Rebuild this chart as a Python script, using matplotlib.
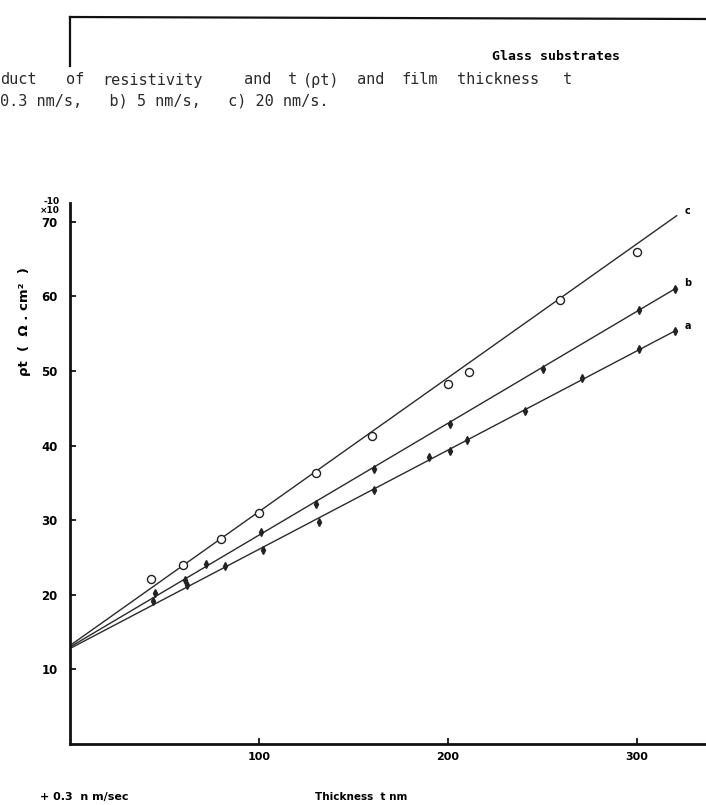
"""rho*t versus film thickness for films on glass substrates (scan re-drawn)."""
import matplotlib

matplotlib.use("Agg")
import matplotlib.pyplot as plt
import numpy as np

plt.rcParams["font.family"] = ["DejaVu Sans"]

# ---- data ----
# c) 20 nm/s, open circles
thick_c = [43, 60, 80, 100, 130, 160, 200, 211, 259, 300]
rhot_c = [22.1, 24.0, 27.5, 31.0, 36.3, 41.3, 48.3, 49.9, 59.5, 66.0]
# b) 5 nm/s
thick_b = [45, 61, 72, 101, 130, 161, 201, 250, 301, 320]
rhot_b = [20.3, 22.0, 24.1, 28.4, 32.2, 36.9, 42.9, 50.3, 58.2, 61.0]
# a) 0.3 nm/s
thick_a = [44, 62, 82, 102, 132, 161, 190, 201, 210, 241, 271, 301, 320]
rhot_a = [19.2, 21.3, 23.8, 26.0, 29.7, 34.0, 38.5, 39.3, 40.7, 44.6, 49.1, 52.9, 55.4]

# straight lines drawn through each set (intercept, slope)
fit_c = (13.2, 0.1795)
fit_b = (13.0, 0.1500)
fit_a = (12.8, 0.1330)
fit_range = [0, 321]

series_labels = ["c", "b", "a"]
yticks = [10, 20, 30, 40, 50, 60, 70]
xticks = [100, 200, 300]

caption_1 = ["duct", "of", "resistivity", "and", "t", "(ρt)", "and", "film", "thickness", "t"]
caption_1_x = [0, 66, 102, 244, 288, 303, 357, 402, 457, 563]
caption_2 = "0.3 nm/s,   b) 5 nm/s,   c) 20 nm/s."

W, H = 706, 805
fig = plt.figure(figsize=(W / 100, H / 100), dpi=100)
fig.patch.set_facecolor("white")

# axes box in pixels: y axis at x=70, x axis at y=744
ax = fig.add_axes([70 / W, (H - 744) / H, (W - 70) / W, (744 - 203) / H])
ax.set_xlim(0, (W - 70) / 1.89)
ax.set_ylim(0, (744 - 203) / 7.46)

xs = np.array(fit_range, dtype=float)
for (b0, b1), lab in zip((fit_c, fit_b, fit_a), series_labels):
    ys = b0 + b1 * xs
    ax.plot(xs, ys, "-", color="#2a2a2a", lw=1.0, zorder=2)
    ax.text(xs[-1] + 4, ys[-1] + 0.6, lab, fontsize=7, fontweight="bold",
            ha="left", va="center", clip_on=False)

ax.plot(thick_c, rhot_c, "o", ms=5.8, mfc="white", mec="#222222", mew=1.0, zorder=3)
ax.plot(thick_b, rhot_b, "d", ms=3.8, color="#222222", zorder=3)
ax.plot(thick_a, rhot_a, "d", ms=3.8, color="#222222", zorder=3)

for side in ("top", "right"):
    ax.spines[side].set_visible(False)
for side in ("left", "bottom"):
    ax.spines[side].set_linewidth(2.0)
    ax.spines[side].set_color("#111111")

ax.set_yticks(yticks)
ax.set_yticklabels([f"{v}" for v in yticks], fontsize=8.5, fontweight="bold")
ax.set_xticks(xticks)
ax.set_xticklabels([f"{v}" for v in xticks], fontsize=8, fontweight="bold")
ax.tick_params(axis="both", direction="in", length=4, width=1.2, pad=9)
ax.tick_params(axis="x", pad=6)

ax.text(-0.072, 0.78, "ρt  (  Ω . cm²  )", transform=ax.transAxes, rotation=90,
        fontsize=9.5, fontweight="bold", ha="center", va="center")

# exponent stacked at the axis top
fig.text(60 / W, 1 - 201 / H, "-10", fontsize=6.5, fontweight="bold", ha="right", va="center")
fig.text(60 / W, 1 - 210 / H, "×10", fontsize=6.5, fontweight="bold", ha="right", va="center")

# frame fragment at top of the scanned page
fig.add_artist(plt.Line2D([70 / W, 1.0], [1 - 17 / H, 1 - 19 / H], color="#111111", lw=1.6))
fig.add_artist(plt.Line2D([70 / W, 70 / W], [1 - 17 / H, 1 - 66 / H], color="#111111", lw=1.6))

mono = ["DejaVu Sans Mono"]
fig.text(492 / W, 1 - 56 / H, "Glass substrates", fontsize=9.5, fontweight="bold",
         family=mono, va="center")
for word, px in zip(caption_1, caption_1_x):
    fig.text(px / W, 1 - 80 / H, word, fontsize=11, family=mono, va="center", color="#2a2a2a")
fig.text(0, 1 - 101 / H, caption_2, fontsize=11, family=mono, va="center", color="#2a2a2a")

fig.text(40 / W, 1 - 797 / H, "+ 0.3  n m/sec", fontsize=8, fontweight="bold", va="center")
fig.text(315 / W, 1 - 797 / H, "Thickness  t nm", fontsize=7.5, fontweight="bold", va="center")

fig.savefig("out.png", dpi=100, facecolor="white")
